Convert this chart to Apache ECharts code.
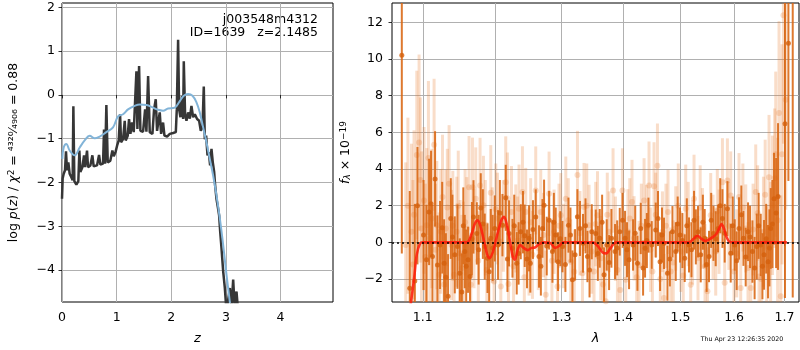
<!DOCTYPE html>
<html>
<head>
<meta charset="utf-8">
<script src="https://cdn.jsdelivr.net/npm/echarts@6/dist/echarts.min.js"></script>
<style>
html, body { margin: 0; padding: 0; background: #fff; }
#chart { width: 800px; height: 350px; }
</style>
</head>
<body>
<div id="chart"></div>
<script>
// ---- left panel: log p(z) ----
const zDark = [0.000,0.012,0.031,0.055,0.073,0.092,0.116,0.140,0.171,0.195,0.208,0.226,0.263,0.299,0.318,0.336,0.373,0.403,0.421,0.458,0.476,0.519,0.556,0.580,0.641,0.678,0.702,0.751,0.769,0.788,0.812,0.837,0.885,0.922,0.947,0.983,1.008,1.038,1.063,1.081,1.118,1.148,1.166,1.203,1.227,1.252,1.282,1.313,1.362,1.380,1.411,1.435,1.484,1.521,1.545,1.576,1.606,1.655,1.685,1.716,1.740,1.789,1.814,1.850,1.875,1.924,1.973,2.034,2.083,2.101,2.125,2.144,2.168,2.198,2.217,2.229,2.253,2.278,2.308,2.339,2.369,2.400,2.431,2.473,2.510,2.540,2.571,2.595,2.614,2.638,2.663,2.687,2.711,2.736,2.760,2.785,2.803,2.827,2.852,2.876,2.895,2.919,2.950,2.980,3.011,3.040,3.072,3.100,3.133,3.160,3.194,3.224];
const pzDark = [-2.37,-1.91,-1.80,-1.72,-1.29,-1.72,-1.54,-1.80,-1.88,-1.95,-0.26,-1.97,-2.05,-1.97,-1.27,-1.76,-1.65,-1.38,-1.65,-1.27,-1.65,-1.61,-1.38,-1.63,-1.61,-1.37,-1.59,-1.57,-0.79,-1.57,-0.23,-1.54,-1.50,-1.27,-1.40,-1.29,-1.16,-1.04,-0.44,-1.08,-1.01,-0.59,-1.04,-0.93,-0.55,-0.89,-0.63,-0.85,0.54,-0.78,0.66,-0.82,-0.84,-0.33,-0.84,0.43,-0.85,-0.89,-0.33,-0.10,-0.82,-0.40,-0.89,-0.63,-0.93,-0.95,-0.89,-0.87,-0.85,-0.33,1.26,-0.33,-0.51,-0.02,-0.55,0.77,-0.44,-0.59,-0.40,-0.54,-0.25,-0.51,-0.44,-0.55,-0.59,-0.82,-0.74,0.19,-1.01,-0.93,-1.38,-1.31,-1.61,-1.23,-1.54,-1.76,-2.07,-2.37,-2.56,-2.75,-3.12,-3.50,-4.03,-4.41,-4.95,-4.95,-4.41,-4.90,-4.22,-4.85,-4.49,-4.95];
const zSmooth = [0.006,0.031,0.079,0.140,0.232,0.324,0.415,0.507,0.598,0.690,0.812,0.934,1.026,1.118,1.209,1.331,1.423,1.545,1.667,1.759,1.850,1.942,2.064,2.156,2.229,2.308,2.388,2.461,2.522,2.583,2.644,2.705,2.766,2.827,2.889,2.950,3.011,3.072,3.090];
const pzSmooth = [-1.46,-1.20,-1.12,-1.27,-1.38,-1.20,-1.04,-0.93,-0.99,-0.95,-0.85,-0.74,-0.49,-0.44,-0.33,-0.25,-0.22,-0.23,-0.29,-0.34,-0.36,-0.31,-0.29,-0.14,-0.02,0.02,-0.02,-0.17,-0.40,-0.74,-1.08,-1.46,-1.84,-2.29,-2.82,-3.43,-4.11,-4.73,-4.94];
const zTicks = [0, 1, 2, 3, 4];
const pzTicks = [-4, -3, -2, -1, 0, 1, 2];

// ---- right panel: spectrum ----
const darkLam = [1.0726,1.0829,1.0895,1.0930,1.1049,1.1084,1.1129,1.1164,1.1196,1.1231,1.1286,1.1340,1.1377,1.1432,1.1469,1.1501,1.1529,1.1570,1.1616,1.1644,1.1692,1.1739,1.1795,1.1852,1.1891,1.1938,1.1996,1.2043,1.2107,1.2155,1.2204,1.2254,1.2317,1.2377,1.2436,1.2501,1.2520,1.2602,1.2652,1.2704,1.2729,1.2806,1.2858,1.2909,1.2945,1.3014,1.3108,1.3171,1.3213,1.3292,1.3340,1.3411,1.3481,1.3546,1.3611,1.3682,1.3726,1.3804,1.3864,1.3943,1.4032,1.4100,1.4168,1.4243,1.4300,1.4374,1.4433,1.4490,1.4560,1.4636,1.4706,1.4767,1.4856,1.4915,1.4992,1.5077,1.5155,1.5247,1.5320,1.5370,1.5444,1.5524,1.5607,1.5694,1.5777,1.5872,1.5935,1.6012,1.6095,1.6181,1.6271,1.6357,1.6442,1.6521,1.6587,1.6667,1.6721,1.6788,1.6869,1.7011,1.7081,1.7170,
    1.1010,1.1110,1.1260,1.1310,1.1400,1.1550,1.1590,1.1670,1.1765,1.1825,1.1915,1.1965,1.2070,1.2180,1.2280,1.2345,1.2410,1.2470,1.2560,1.2680,1.2770,1.2880,1.2980,1.3060,1.3140,1.3250,1.3380,1.3445,1.3580,1.3650,1.3765,1.3900,1.3990,1.4065,1.4205,1.4340,1.4405,1.4600,1.4670,1.4810,1.4950,1.5035,1.5115,1.5200,1.5280,1.5410,1.5480,1.5565,1.5650,1.5735,1.5820,1.5975,1.6050,1.6140,1.6225,1.6310,1.6400,1.6480,1.6555,1.6630,1.6695,1.6755,1.6830];
const darkFlux = [10.2,-2.5,-2.1,2.0,-0.95,1.66,-0.77,3.46,-1.23,-0.14,-1.14,-2.94,1.30,-0.68,-0.23,-1.68,-2.70,-0.50,-0.95,-1.86,1.39,0.49,1.87,-0.23,-0.86,0.22,0.76,-0.14,0.94,2.43,0.49,-0.32,-1.14,0.58,0.36,0.22,-1.14,1.39,-0.77,0.76,2.02,1.21,-0.50,0.40,-1.05,-0.23,0.94,-2.04,-0.68,0.76,-0.05,-0.77,0.58,0.49,0.22,-1.77,-0.14,0.22,-0.50,0.58,0.22,-0.95,-0.14,-1.14,0.76,-0.32,0.94,-0.14,0.67,-1.05,-0.05,-1.68,0.58,-0.50,0.40,-0.86,-0.14,1.21,0.58,-0.68,0.22,-0.77,0.49,0.76,1.30,1.84,-0.59,-0.14,0.76,0.22,0.58,-0.50,-0.23,-0.14,-0.68,-1.05,0.76,2.38,2.50,6.47,10.85,16.0,
    0.4,2.1,0.8,-1.9,0.3,0.9,-1.3,0.2,-0.4,1.0,-1.6,-0.3,1.6,-0.9,0.9,-0.6,1.1,-0.9,0.7,-1.3,-0.2,1.1,0.2,-1.2,0.4,1.4,0.9,-1.5,-0.6,1.1,-1.1,-0.3,1.2,-0.4,0.5,-1.4,0.1,1.3,0.4,-0.9,1.0,0.1,0.9,-0.4,0.3,1.1,-1.2,1.2,0.2,2.0,0.5,0.9,-1.0,1.5,-0.8,0.3,-1.4,0.9,-1.3,0.2,-0.3,1.0,1.6];
const darkErr = [10.8,5.3,4.2,3.2,3.0,2.9,2.8,2.6,2.7,2.4,2.4,2.3,2.2,2.1,2.3,1.9,2.1,2.0,1.8,2.0,2.0,1.7,1.9,1.8,1.9,1.6,1.8,1.9,1.7,1.8,1.8,1.6,1.7,1.5,1.7,1.8,1.6,1.5,1.7,1.6,1.4,1.6,1.7,1.5,1.6,1.4,1.5,1.6,1.4,1.5,1.6,1.4,1.5,1.3,1.6,1.5,1.4,1.6,1.5,1.3,1.5,1.6,1.4,1.5,1.4,1.6,1.5,1.3,1.5,1.6,1.4,1.5,1.4,1.6,1.5,1.3,1.5,1.6,1.4,1.5,1.6,1.4,1.5,1.3,1.6,1.5,1.6,1.4,1.7,1.5,1.6,1.7,1.8,1.7,1.9,2.0,2.2,2.5,4.0,9.5,7.5,19.0,
    3.0,2.9,2.5,2.4,2.3,2.1,2.0,2.0,1.9,1.9,1.8,1.8,1.8,1.8,1.7,1.7,1.7,1.6,1.6,1.6,1.6,1.6,1.5,1.5,1.5,1.5,1.5,1.5,1.5,1.5,1.5,1.5,1.5,1.5,1.5,1.5,1.5,1.5,1.5,1.5,1.5,1.5,1.5,1.5,1.5,1.5,1.5,1.5,1.5,1.5,1.6,1.6,1.6,1.6,1.6,1.7,1.7,1.8,1.8,1.9,2.1,2.4,3.0];

const lightLam = [1.0777,1.0851,1.0885,1.0921,1.0951,1.0983,1.1017,1.1053,1.1097,1.1151,1.1187,1.1218,1.1264,1.1309,1.1354,1.1387,1.1422,1.1459,1.1505,1.1552,1.1598,1.1654,1.1678,1.1724,1.1785,1.1833,1.1881,1.1938,1.1986,1.2035,1.2083,1.2155,1.2195,1.2239,1.2303,1.2351,1.2402,1.2451,1.2501,1.2552,1.2602,1.2678,1.2755,1.2806,1.2883,1.2936,1.2987,1.3066,1.3144,1.3251,1.3331,1.3356,1.3437,1.3518,1.3574,1.3628,1.3710,1.3764,1.3831,1.3904,1.3988,1.4044,1.4112,1.4185,1.4270,1.4357,1.4398,1.4443,1.4502,1.4530,1.4590,1.4678,1.4706,1.4777,1.4825,1.4915,1.5005,1.5095,1.5186,1.5247,1.5320,1.5402,1.5495,1.5556,1.5650,1.5713,1.5777,1.5872,1.5935,1.5999,1.6095,1.6128,1.6226,1.6324,1.6422,1.6487,1.6575,1.6641,1.6687,1.6756,1.6822,1.6889,1.6924,1.6979,1.7026,
    1.0805,1.0870,1.0968,1.1035,1.1075,1.1120,1.1170,1.1240,1.1285,1.1330,1.1405,1.1480,1.1530,1.1575,1.1630,1.1700,1.1760,1.1860,1.1960,1.2010,1.2120,1.2180,1.2270,1.2330,1.2430,1.2525,1.2640,1.2720,1.2850,1.2960,1.3030,1.3105,1.3200,1.3290,1.3400,1.3480,1.3545,1.3665,1.3735,1.3870,1.3950,1.4080,1.4150,1.4230,1.4310,1.4470,1.4560,1.4640,1.4740,1.4870,1.4960,1.5050,1.5140,1.5220,1.5360,1.5450,1.5600,1.5680,1.5820,1.5900,1.6050,1.6170,1.6270,1.6370,1.6460,1.6530,1.6610,1.6720,1.6800,1.6860,1.6950];
const lightFlux = [-0.14,0.58,1.51,4.76,5.44,0.76,2.29,0.94,0.22,5.32,0.94,-1.77,2.47,0.76,3.19,-0.14,-1.77,0.58,-0.59,-0.68,0.76,-2.31,3.01,2.38,3.10,2.02,-1.50,2.70,-2.13,1.30,-2.40,3.28,-2.27,1.66,0.76,1.84,2.74,1.66,-0.50,-0.68,2.83,1.66,-2.85,2.65,0.58,-2.40,1.48,2.38,-1.05,3.68,-1.68,1.93,0.94,-1.59,1.48,-0.86,-3.21,0.58,2.83,-1.50,2.83,-2.04,1.30,0.22,-1.23,2.29,0.94,3.10,-1.59,3.06,4.18,0.58,-3.03,1.66,-1.59,0.76,-0.50,1.84,-2.31,2.38,-0.86,0.76,-2.67,1.48,-0.50,0.58,3.28,3.37,2.56,-1.59,2.47,-2.49,0.76,-2.49,2.74,-1.86,0.58,-1.23,3.55,2.02,4.81,7.06,-2.94,12.38,7.78,
    2.0,-1.2,3.4,-0.8,4.6,1.3,-0.4,0.6,-2.3,1.9,0.9,2.0,-1.4,1.1,3.0,0.2,-1.0,0.8,0.4,1.8,0.9,2.4,-1.3,0.1,-1.9,1.1,-0.3,0.4,-1.0,0.9,-0.2,1.2,-1.6,0.5,2.0,-0.5,1.0,-2.3,1.5,0.2,-2.6,0.6,2.2,-1.9,0.9,-0.4,1.5,-2.0,0.9,-1.1,2.0,-1.8,1.0,0.0,1.9,-1.3,0.3,1.7,-2.2,0.9,-0.6,1.9,-1.4,0.7,1.6,-2.0,2.6,0.0,3.5,1.2,4.8];
const lightErr = [4.5,4.8,4.6,4.6,4.8,4.2,4.0,4.2,3.8,3.6,3.5,3.4,3.4,3.2,3.2,3.0,3.0,3.0,2.9,2.9,2.8,2.8,2.7,2.8,2.6,2.7,2.6,2.6,2.6,2.5,2.6,2.5,2.5,2.5,2.4,2.4,2.5,2.4,2.4,2.4,2.4,2.3,2.4,2.3,2.3,2.4,2.3,2.3,2.3,2.4,2.3,2.4,2.2,2.3,2.4,2.3,2.4,2.2,2.3,2.4,2.3,2.4,2.2,2.3,2.4,2.3,2.2,2.4,2.3,2.4,2.3,2.2,2.4,2.3,2.4,2.3,2.2,2.4,2.3,2.4,2.3,2.2,2.4,2.3,2.4,2.3,2.4,2.3,2.4,2.3,2.4,2.5,2.4,2.5,2.6,2.8,3.0,3.2,3.4,3.8,4.5,5.0,5.5,7.0,6.0,
    4.8,4.6,4.5,4.0,4.2,3.8,3.6,3.4,3.2,3.2,3.0,3.0,2.9,2.9,2.8,2.7,2.7,2.6,2.6,2.5,2.5,2.5,2.4,2.4,2.4,2.4,2.3,2.3,2.3,2.3,2.3,2.3,2.3,2.3,2.3,2.3,2.3,2.3,2.3,2.3,2.3,2.3,2.3,2.3,2.3,2.3,2.3,2.3,2.3,2.3,2.3,2.3,2.3,2.3,2.3,2.3,2.3,2.3,2.4,2.4,2.4,2.4,2.5,2.5,2.6,2.7,3.0,3.3,3.8,4.5,6.0];

const modelLam = [1.0800,1.0845,1.0886,1.0920,1.0965,1.1000,1.1600,1.1660,1.1710,1.1750,1.1790,1.1840,1.1890,1.1920,1.1970,1.2030,1.2090,1.2130,1.2170,1.2220,1.2260,1.2290,1.2330,1.2370,1.2420,1.2480,1.2540,1.2590,1.2650,1.2720,1.2830,1.2900,1.2960,1.3020,1.3500,1.3580,1.3660,1.3720,1.3780,1.3850,1.3900,1.5150,1.5240,1.5310,1.5380,1.5460,1.5520,1.5600,1.5660,1.5720,1.5760,1.5800,1.5860,1.5920,1.6000,1.7050];
const modelFlux = [-4.5,-3.25,-1.95,-0.68,-0.05,0,0,0.4,1.0,1.2,0.9,0.1,-0.7,-0.86,-0.5,0.4,1.2,1.4,1.0,0.0,-0.8,-0.95,-0.4,-0.15,-0.3,-0.42,-0.3,-0.28,-0.1,0,-0.05,-0.3,-0.2,0,0,-0.2,-0.55,-0.6,-0.35,-0.05,0,0,0.2,0.36,0.2,0.07,0.15,0.3,0.45,0.8,1.0,0.8,0.25,0.02,0,0];
const lamTicks = [1.1, 1.2, 1.3, 1.4, 1.5, 1.6, 1.7];
const fluxTicks = [-2, 0, 2, 4, 6, 8, 10, 12];

const FONT = 'DejaVu Sans';
const PZ_MIN = -4.73, PZ_MAX = 2.1;
const F_MIN = -3.25, F_MAX = 13.05;

function minus(v) { return String(v).replace('-', '\u2212'); }

// vertical error bar drawn through the axes' own scales
function errBar(color, width) {
    return function (params, api) {
        var x = api.value(0);
        var lo = Math.max(api.value(1), F_MIN - 1);
        var hi = Math.min(api.value(2), F_MAX + 1);
        var a = api.coord([x, lo]);
        var b = api.coord([x, hi]);
        return {
            type: 'line',
            shape: { x1: a[0], y1: a[1], x2: b[0], y2: b[1] },
            style: { stroke: color, lineWidth: width }
        };
    };
}

var tickStyle = { show: true, inside: false, length: 3.5, lineStyle: { color: '#000', width: 0.8 } };
var gridLine = { show: true, lineStyle: { color: '#b0b0b0', width: 1 } };
var labelStyle = { color: '#000', fontSize: 12.5, fontFamily: FONT };

var myChart = echarts.init(document.getElementById('chart'));
myChart.setOption({
    animation: false,
    textStyle: { fontFamily: FONT },
    grid: [
        { left: 62, top: 3, width: 271, height: 301, show: true, borderColor: '#000', borderWidth: 1, backgroundColor: 'transparent' },
        { left: 392, top: 3, width: 407, height: 301, show: true, borderColor: '#000', borderWidth: 1, backgroundColor: 'transparent' }
    ],
    xAxis: [{
        gridIndex: 0, type: 'value', min: 0, max: 4.96, interval: 1,
        axisLine: { show: false },
        axisTick: Object.assign({ customValues: zTicks }, tickStyle),
        axisLabel: Object.assign({ customValues: zTicks, margin: 9, formatter: minus }, labelStyle),
        splitLine: gridLine,
        name: 'z', nameLocation: 'middle', nameGap: 30,
        nameTextStyle: { fontSize: 13, fontStyle: 'italic', color: '#000', fontFamily: FONT }
    }, {
        gridIndex: 1, type: 'log', logBase: 10, min: 1.06, max: 1.73,
        axisLine: { show: false },
        axisTick: Object.assign({ customValues: lamTicks }, tickStyle),
        axisLabel: Object.assign({ customValues: lamTicks, margin: 9, formatter: function (v) { return v.toFixed(1); } }, labelStyle),
        splitLine: gridLine,
        minorTick: { show: false },
        name: 'λ', nameLocation: 'middle', nameGap: 30,
        nameTextStyle: { fontSize: 13, fontStyle: 'italic', color: '#000', fontFamily: FONT }
    }],
    yAxis: [{
        gridIndex: 0, type: 'value', min: PZ_MIN, max: PZ_MAX, splitNumber: 7,
        axisLine: { show: false },
        axisTick: Object.assign({ customValues: pzTicks }, tickStyle),
        axisLabel: Object.assign({ customValues: pzTicks, margin: 7, formatter: minus }, labelStyle),
        splitLine: gridLine,
        name: '{t|log }{i|p}{t|(}{i|z}{t|) / }{i|χ}{s|2}{t| = }{f|⁴³²⁰⁄₄₉₀₆}{t| = 0.88}',
        nameLocation: 'middle', nameRotate: 90, nameGap: 42,
        nameTextStyle: {
            color: '#000', fontFamily: FONT, fontSize: 12.5,
            rich: {
                t: { fontSize: 12.5, fontFamily: FONT, color: '#000' },
                i: { fontSize: 12.5, fontFamily: FONT, fontStyle: 'italic', color: '#000' },
                s: { fontSize: 9, fontFamily: FONT, verticalAlign: 'top', color: '#000' },
                f: { fontSize: 12.5, fontFamily: FONT, color: '#000' }
            }
        }
    }, {
        gridIndex: 1, type: 'value', min: F_MIN, max: F_MAX, splitNumber: 8,
        axisLine: { show: false },
        axisTick: Object.assign({ customValues: fluxTicks }, tickStyle),
        axisLabel: Object.assign({ customValues: fluxTicks, margin: 9, formatter: minus }, labelStyle),
        splitLine: gridLine,
        name: '{i|f}{b|λ}{t| × 10}{s|−19}',
        nameLocation: 'middle', nameRotate: 90, nameGap: 40,
        nameTextStyle: {
            color: '#000', fontFamily: FONT, fontSize: 12.5,
            rich: {
                t: { fontSize: 12.5, fontFamily: FONT, color: '#000' },
                i: { fontSize: 12.5, fontFamily: FONT, fontStyle: 'italic', color: '#000' },
                b: { fontSize: 9, fontFamily: FONT, fontStyle: 'italic', verticalAlign: 'bottom', color: '#000' },
                s: { fontSize: 9, fontFamily: FONT, verticalAlign: 'top', color: '#000' }
            }
        }
    }],
    series: [{
        name: 'p(z)',
        type: 'line', xAxisIndex: 0, yAxisIndex: 0,
        data: zDark.map(function (z, i) { return [z, pzDark[i]]; }),
        showSymbol: false, clip: true, z: 3,
        lineStyle: { color: '#363636', width: 2.5 }
    }, {
        name: 'p(z) smooth',
        type: 'line', xAxisIndex: 0, yAxisIndex: 0,
        data: zSmooth.map(function (z, i) { return [z, pzSmooth[i]]; }),
        showSymbol: false, clip: true, smooth: 0.4, z: 4,
        lineStyle: { color: '#82b4d8', width: 2 }
    }, {
        name: 'light err',
        type: 'custom', xAxisIndex: 1, yAxisIndex: 1, clip: true, z: 2,
        renderItem: errBar('rgba(232,120,40,0.25)', 3),
        encode: { x: 0, y: [1, 2] },
        data: lightLam.map(function (l, i) { return [l, lightFlux[i] - lightErr[i], lightFlux[i] + lightErr[i]]; })
    }, {
        name: 'light pts',
        type: 'scatter', xAxisIndex: 1, yAxisIndex: 1, clip: true, z: 3,
        symbolSize: 6,
        itemStyle: { color: 'rgba(232,120,40,0.3)' },
        data: lightLam.map(function (l, i) { return [l, lightFlux[i]]; })
    }, {
        name: 'dark err',
        type: 'custom', xAxisIndex: 1, yAxisIndex: 1, clip: true, z: 4,
        renderItem: errBar('rgba(218,102,18,0.88)', 2),
        encode: { x: 0, y: [1, 2] },
        data: darkLam.map(function (l, i) { return [l, darkFlux[i] - darkErr[i], darkFlux[i] + darkErr[i]]; })
    }, {
        name: 'dark pts',
        type: 'scatter', xAxisIndex: 1, yAxisIndex: 1, clip: true, z: 5,
        symbolSize: 5,
        itemStyle: { color: '#d5600c' },
        data: darkLam.map(function (l, i) { return [l, darkFlux[i]]; })
    }, {
        name: 'model',
        type: 'line', xAxisIndex: 1, yAxisIndex: 1, clip: true, z: 6,
        smooth: 0.3, showSymbol: false,
        lineStyle: { color: 'rgba(255,28,12,0.85)', width: 2.6 },
        data: modelLam.map(function (l, i) { return [l, modelFlux[i]]; }),
        markLine: {
            silent: true, symbol: 'none', z: 10,
            label: { show: false },
            lineStyle: { color: '#000', type: [2, 3], width: 1.6 },
            data: [{ yAxis: 0 }]
        }
    }],
    graphic: [{
        type: 'text', x: 318, y: 20,
        style: { text: 'j003548m4312', fill: '#000', font: '12.5px "DejaVu Sans"', textAlign: 'right', textVerticalAlign: 'middle' }
    }, {
        type: 'text', x: 318, y: 33,
        style: { text: 'ID=1639   z=2.1485', fill: '#000', font: '12.5px "DejaVu Sans"', textAlign: 'right', textVerticalAlign: 'middle' }
    }, {
        type: 'text', x: 742, y: 339,
        style: { text: 'Thu Apr 23 12:26:35 2020', fill: '#000', font: '6.25px "DejaVu Sans"', textAlign: 'center', textVerticalAlign: 'middle' }
    }]
});
</script>
</body>
</html>
